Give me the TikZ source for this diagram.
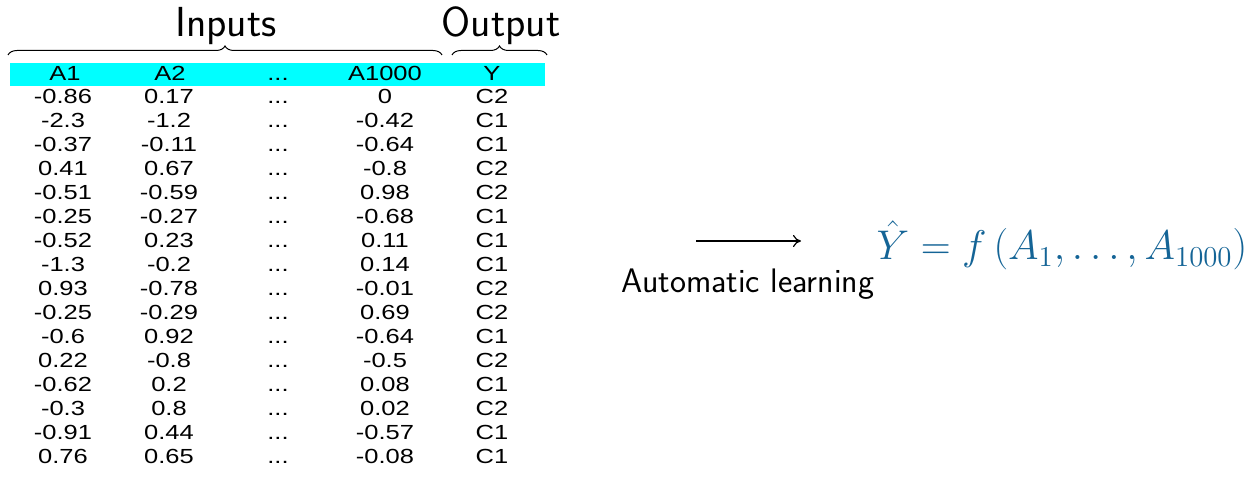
\documentclass[tikz,border=0pt]{standalone}
\usepackage{fontspec}
\usepackage{amsmath}
\usetikzlibrary{positioning, arrows.meta, decorations.pathreplacing}
\newfontfamily\tabfont[FakeStretch=1.25]{Liberation Sans}
\definecolor{learnblue}{RGB}{20,100,150}
\definecolor{bandcyan}{RGB}{0,255,255}

\begin{document}
\begin{tikzpicture}[x=0.5pt, y=-0.5pt,
		cell/.style={font=\tabfont\fontsize{10.2}{12}\selectfont, inner sep=0pt, anchor=base},
		title/.style={font=\sffamily\fontsize{21}{25}\selectfont, inner sep=0pt, anchor=base},
		bracebar/.style={decorate, decoration={brace, amplitude=4.5pt}, line width=0.5pt}]
		\useasboundingbox (0,0) rectangle (1260,480);
		% Header band
		\fill[bandcyan] (10,63) rectangle (545,86);
		\node[cell] (hA1) at (65,80.5) {A1};
		\node[cell] (hA2) at (170,80.5) {A2};
		\node[cell] (hdots) at (278,80.5) {...};
		\node[cell] (hA1000) at (385,80.5) {A1000};
		\node[cell] (hY) at (492,80.5) {Y};
		% Braces and titles
		\coordinate (inL) at (8,55);
		\coordinate (inR) at (442,55);
		\coordinate (outL) at (452,55);
		\coordinate (outR) at (547,55);
		\draw[bracebar] (inL) -- (inR);
		\draw[bracebar] (outL) -- (outR);
		\node[title] (inputs) at (226,37) {Inputs};
		\node[title] (output) at (501,37) {Output};
		% Data rows
		\foreach \a/\b/\c/\y [count=\n] in {
			-0.86/0.17/0/C2, -2.3/-1.2/-0.42/C1, -0.37/-0.11/-0.64/C1, 0.41/0.67/-0.8/C2,
			-0.51/-0.59/0.98/C2, -0.25/-0.27/-0.68/C1, -0.52/0.23/0.11/C1, -1.3/-0.2/0.14/C1,
			0.93/-0.78/-0.01/C2, -0.25/-0.29/0.69/C2, -0.6/0.92/-0.64/C1, 0.22/-0.8/-0.5/C2,
			-0.62/0.2/0.08/C1, -0.3/0.8/0.02/C2, -0.91/0.44/-0.57/C1, 0.76/0.65/-0.08/C1}{
			\node[cell] (a1r\n) at (63,80+24*\n) {\a};
			\node[cell] (a2r\n) at (169,80+24*\n) {\b};
			\node[cell] (dr\n) at (278,80+24*\n) {...};
			\node[cell] (a3r\n) at (385,80+24*\n) {\c};
			\node[cell] (yr\n) at (492,80+24*\n) {\y};
		}
		% Learning step
		\coordinate (arrS) at (696,241);
		\coordinate (arrE) at (801,241);
		\draw[-{To[length=4pt, width=6pt]}, line width=0.6pt] (arrS) -- (arrE);
		\node[font=\sffamily\fontsize{17}{20}\selectfont, inner sep=0pt, anchor=base] (learn) at (748,293) {Automatic learning};
		\node[text=learnblue, font=\fontsize{22.4}{26}\selectfont, inner sep=0pt, anchor=base] (model) at (1062,260)
			{$\hat{Y} = f\left(A_1, \ldots, A_{1000}\right)$};
\end{tikzpicture}
\end{document}
